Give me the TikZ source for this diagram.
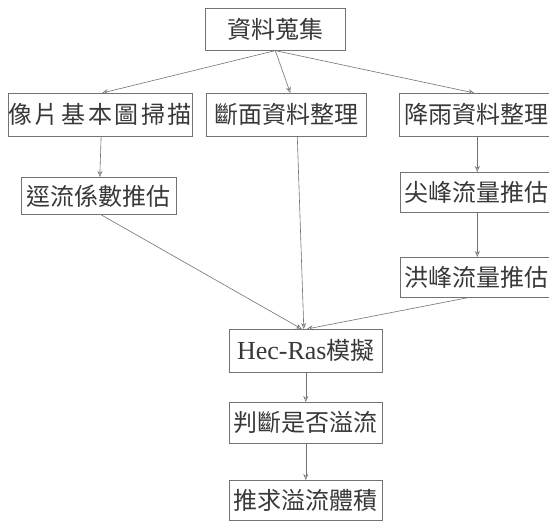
\documentclass[tikz,border=0pt]{standalone}
\usepackage{fontspec}
\setmainfont{Liberation Serif}
\newfontfamily\cjk{Noto Sans CJK TC}
\usetikzlibrary{arrows.meta,calc}
\begin{document}
\begin{tikzpicture}[x=1pt,y=-1pt,
  box/.style={draw=black!55,line width=0.6pt,inner sep=0pt,anchor=north west,
    text=black!78,font=\fontsize{24}{24}\selectfont\cjk},
  arr/.style={draw=black!55,line width=0.6pt,-{Stealth[length=6pt,width=5pt,open]}}]
\clip (0,0) rectangle (549,520);
\fill[white] (0,0) rectangle (549,520);
\node[box,minimum width=140pt,minimum height=42pt] (top) at (205,8) {資料蒐集};
\node[box,minimum width=180pt,minimum height=43pt] (a1) at (8,93) {像\hspace{2.6pt}片\hspace{2.6pt}基\hspace{2.6pt}本\hspace{2.6pt}圖\hspace{2.6pt}掃\hspace{2.6pt}描};
\node[box,minimum width=160pt,minimum height=43pt] (b1) at (206,93) {斷面資料整理};
\node[box,minimum width=178pt,minimum height=43pt,text width=174pt,align=left] (c1) at (399,93) {\hspace*{3pt}降雨資料整理};
\node[box,minimum width=155pt,minimum height=37pt] (a2) at (21,177) {逕流係數推估};
\node[box,minimum width=178pt,minimum height=40pt,text width=174pt,align=left] (c2) at (400,172) {\hspace*{2pt}尖峰流量推估};
\node[box,minimum width=178pt,minimum height=40pt,text width=174pt,align=left] (c3) at (400,257) {\hspace*{2pt}洪峰流量推估};
\node[box,minimum width=153pt,minimum height=43pt] (d1) at (229,329) {{\rmfamily\fontsize{26}{26}\selectfont Hec-Ras}模擬};
\node[box,minimum width=153pt,minimum height=41pt] (d2) at (229,402) {判斷是否溢流};
\node[box,minimum width=153pt,minimum height=40pt] (d3) at (229,480) {推求溢流體積};
% arrows
\coordinate (topS) at ($(top.south)+(0,0)$);
\draw[arr] (topS) -- ($(a1.north)+(2,0)$);
\draw[arr] (topS) -- ($(b1.north)+(4,0)$);
\draw[arr] (topS) -- ($(c1.north)+(-14,0)$);
\draw[arr] ($(a1.south)+(1,0)$) -- ($(a2.north)+(1,0)$);
\draw[arr] ($(c1.south)+(-11,0)$) -- ($(c2.north)+(-12,0)$);
\draw[arr] ($(c2.south)+(-12,0)$) -- ($(c3.north)+(-12,0)$);
\draw[arr] ($(b1.south)+(11,0)$) -- ($(d1.north)+(-2,0)$);
\draw[arr] ($(a2.south)+(2,0)$) -- ($(d1.north)+(-4,0)$);
\draw[arr] ($(c3.south)+(-21,0)$) -- ($(d1.north)+(1,0)$);
\draw[arr] (d1.south) -- (d2.north);
\draw[arr] (d2.south) -- (d3.north);
\end{tikzpicture}
\end{document}
